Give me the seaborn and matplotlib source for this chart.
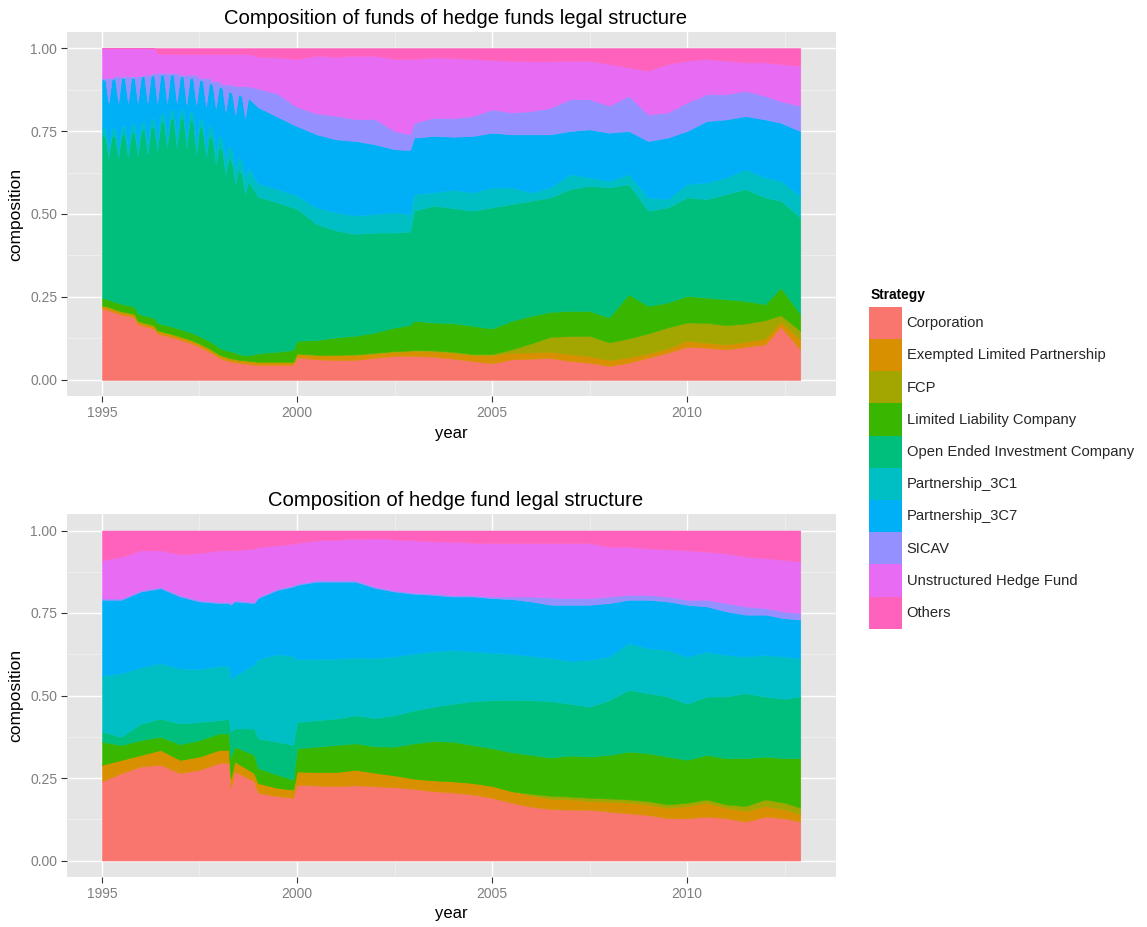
import numpy as np
import matplotlib
matplotlib.use("Agg")
import matplotlib.pyplot as plt
from matplotlib.patches import Patch
import seaborn as sns

# ---------------- data (stacked upper edges) ----------------
strategies = ["Corporation", "Exempted Limited Partnership", "FCP",
              "Limited Liability Company", "Open Ended Investment Company",
              "Partnership_3C1", "Partnership_3C7", "SICAV",
              "Unstructured Hedge Fund", "Others"]
colors = ["#F8766D", "#D89000", "#A3A500", "#39B600", "#00BF7D",
          "#00BFC4", "#00B0F6", "#9590FF", "#E76BF3", "#FF62BC"]

# --- funds of hedge funds (top chart) ---
fof_year = [1995.000, 1995.083, 1995.167, 1995.250, 1995.333, 1995.417, 1995.500, 1995.583,
            1995.667, 1995.750, 1995.833, 1995.917, 1996.000, 1996.083, 1996.167, 1996.250,
            1996.333, 1996.417, 1996.500, 1996.583, 1996.667, 1996.750, 1996.833, 1996.917,
            1997.000, 1997.083, 1997.167, 1997.250, 1997.333, 1997.417, 1997.500, 1997.583,
            1997.667, 1997.750, 1997.833, 1997.917, 1998.000, 1998.083, 1998.167, 1998.250,
            1998.333, 1998.417, 1998.500, 1998.583, 1998.667, 1998.750,
            1999.0, 1999.5, 1999.9, 2000.0, 2000.5, 2001.0, 2001.5, 2002.0, 2002.5, 2002.9,
            2003.0, 2003.5, 2004.0, 2004.5, 2005.0, 2005.5, 2006.0, 2006.5, 2007.0, 2007.5,
            2008.0, 2008.5, 2009.0, 2009.5, 2010.0, 2010.5, 2011.0, 2011.5, 2012.0, 2012.4,
            2012.9]
fof_corporation_top = [
    .215, .213, .210, .207, .203, .200, .197, .195, .193, .191, .188, .168, .165, .162, .160, .157,
    .154, .140, .137, .135, .132, .130, .127, .124, .121, .118, .115, .112, .108, .104, .100, .095,
    .090, .085, .079, .073, .067, .063, .060, .057, .055, .053, .051, .050, .049, .048,
    .045, .045, .045, .068, .062, .060, .060, .067, .072, .072,
    .072, .070, .064, .057, .050, .062, .064, .066, .057, .052,
    .042, .052, .067, .082, .100, .097, .092, .100, .107, .160, .092]
fof_exempted_top = [
    .223, .221, .218, .215, .211, .208, .205, .203, .201, .199, .196, .176, .173, .170, .168, .165,
    .162, .148, .145, .143, .140, .138, .135, .132, .129, .126, .123, .120, .116, .112, .108, .103,
    .098, .093, .087, .081, .075, .071, .068, .065, .063, .061, .059, .058, .057, .056,
    .053, .053, .053, .078, .074, .074, .075, .080, .085, .086,
    .087, .086, .082, .075, .075, .082, .083, .085, .077, .072,
    .060, .068, .080, .095, .118, .112, .107, .115, .125, .175, .123]
fof_fcp_top = [
    .225, .223, .220, .217, .213, .210, .207, .205, .203, .201, .198, .178, .175, .172, .170, .167,
    .164, .150, .147, .145, .142, .140, .137, .134, .131, .128, .125, .122, .118, .114, .110, .105,
    .100, .095, .089, .083, .077, .073, .070, .067, .065, .063, .061, .060, .059, .058,
    .055, .055, .055, .080, .076, .076, .077, .082, .087, .089,
    .090, .089, .085, .078, .078, .092, .110, .130, .132, .133,
    .113, .125, .140, .158, .173, .172, .165, .170, .180, .195, .148]
fof_llc_top = [
    .247, .245, .242, .239, .235, .232, .229, .227, .225, .223, .220, .200, .197, .194, .192, .189,
    .186, .172, .169, .167, .164, .162, .159, .156, .153, .150, .147, .144, .140, .136, .132, .127,
    .122, .117, .111, .105, .097, .093, .090, .087, .085, .083, .077, .076, .075, .074,
    .080, .085, .090, .118, .120, .128, .133, .143, .158, .165,
    .178, .173, .171, .163, .155, .178, .193, .205, .208, .208,
    .188, .258, .223, .233, .253, .248, .243, .238, .228, .278, .198]
fof_oeic_top = [
    .735, .735, .670, .735, .735, .670, .740, .740, .670, .745, .745, .675, .750, .755, .680, .760,
    .765, .690, .775, .780, .700, .785, .790, .700, .790, .790, .700, .785, .780, .680, .765, .755,
    .670, .740, .725, .650, .705, .690, .620, .670, .655, .590, .635, .620, .560, .600,
    .552, .535, .520, .515, .470, .450, .440, .444, .444, .447,
    .510, .525, .518, .510, .520, .530, .540, .550, .575, .585,
    .580, .590, .510, .520, .550, .545, .560, .575, .550, .540, .490]
fof_3c1_top = [
    .760, .760, .700, .760, .760, .700, .765, .765, .700, .770, .770, .705, .775, .780, .710, .785,
    .790, .720, .800, .805, .730, .810, .815, .730, .815, .815, .730, .810, .805, .710, .790, .780,
    .700, .770, .755, .690, .740, .725, .660, .710, .695, .635, .675, .660, .610, .640,
    .592, .575, .560, .555, .520, .505, .495, .500, .505, .500,
    .560, .565, .573, .565, .580, .580, .565, .580, .620, .610,
    .600, .620, .550, .545, .590, .595, .610, .635, .610, .600, .555]
fof_3c7_top = [
    .905, .905, .835, .905, .910, .835, .910, .910, .835, .910, .910, .835, .915, .915, .835, .915,
    .920, .835, .920, .920, .835, .920, .920, .835, .915, .915, .830, .910, .910, .830, .905, .900,
    .825, .895, .890, .820, .885, .880, .810, .870, .865, .800, .860, .855, .790, .850,
    .822, .793, .770, .765, .740, .725, .720, .710, .695, .693,
    .730, .735, .733, .735, .745, .740, .740, .740, .750, .755,
    .745, .750, .720, .730, .750, .780, .785, .795, .785, .775, .750]
fof_sicav_top = [
    .910, .910, .910, .910, .915, .915, .915, .915, .915, .915, .915, .915, .915, .920, .920, .920,
    .925, .925, .925, .925, .925, .925, .925, .925, .920, .920, .920, .920, .920, .920, .910, .910,
    .910, .910, .900, .900, .900, .890, .890, .890, .890, .885, .885, .885, .885, .885,
    .878, .863, .830, .823, .803, .796, .786, .786, .750, .740,
    .775, .790, .789, .795, .815, .806, .810, .820, .846, .846,
    .826, .856, .800, .806, .836, .861, .861, .871, .856, .840, .826]
fof_unstructured_top = [
    1.0, 1.0, 1.0, 1.0, 1.0, 1.0, 1.0, 1.0, 1.0, 1.0, 1.0, 1.0, 1.0, 1.0, 1.0, 1.0,
    1.0, .985, .982, .982, .982, .982, .982, .982, .982, .982, .982, .982, .982, .982, .982, .982,
    .982, .982, .982, .982, .982, .982, .982, .982, .982, .982, .982, .982, .982, .982,
    .974, .972, .968, .967, .977, .974, .977, .977, .967, .967,
    .967, .972, .970, .967, .964, .962, .960, .960, .962, .962,
    .952, .942, .932, .952, .962, .967, .962, .957, .957, .952, .947]

# --- hedge funds (bottom chart) ---
hf_year = [1995.0, 1995.5, 1996.0, 1996.5, 1997.0, 1997.5, 1998.0, 1998.25, 1998.3, 1998.4,
           1998.9, 1999.0, 1999.5, 1999.9, 2000.0, 2000.5, 2001.0, 2001.5, 2002.0, 2002.5,
           2003.0, 2003.5, 2004.0, 2004.5, 2005.0, 2005.5, 2006.0, 2006.5, 2007.0, 2007.5,
           2008.0, 2008.5, 2009.0, 2009.5, 2010.0, 2010.5, 2011.0, 2011.5, 2012.0, 2012.5, 2012.9]
hf_corporation_top = [.240, .265, .285, .290, .265, .275, .295, .296, .220, .270,
                      .240, .205, .195, .190, .230, .227, .225, .228, .225, .222,
                      .217, .210, .206, .200, .190, .175, .163, .156, .154, .154,
                      .148, .143, .138, .128, .128, .133, .128, .118, .133, .128, .118]
hf_exempted_top = [.290, .305, .320, .335, .305, .315, .335, .335, .250, .300,
                   .265, .235, .220, .215, .270, .268, .268, .275, .266, .258,
                   .248, .243, .240, .235, .226, .210, .197, .187, .185, .180,
                   .178, .175, .170, .160, .165, .175, .160, .150, .165, .155, .140]
hf_fcp_top = [.290, .305, .320, .335, .305, .315, .335, .335, .250, .300,
              .265, .235, .220, .215, .270, .268, .268, .275, .266, .258,
              .248, .243, .240, .235, .226, .210, .202, .196, .194, .190,
              .188, .185, .180, .170, .175, .185, .170, .165, .185, .175, .160]
hf_llc_top = [.360, .350, .365, .375, .352, .365, .385, .385, .310, .345,
              .320, .280, .260, .245, .340, .345, .350, .355, .346, .345,
              .355, .362, .360, .350, .340, .328, .320, .312, .318, .315,
              .320, .330, .325, .315, .305, .320, .310, .310, .315, .310, .310]
hf_oeic_top = [.390, .375, .415, .430, .415, .420, .425, .430, .390, .400,
               .400, .370, .360, .350, .420, .425, .430, .440, .432, .440,
               .455, .466, .475, .483, .486, .487, .486, .483, .475, .466,
               .486, .517, .507, .497, .475, .497, .497, .507, .497, .490, .497]
hf_3c1_top = [.560, .568, .585, .598, .582, .580, .590, .590, .550, .560,
              .595, .610, .625, .620, .610, .610, .612, .615, .614, .618,
              .628, .634, .638, .634, .630, .626, .620, .614, .605, .608,
              .618, .659, .643, .638, .618, .633, .623, .618, .623, .618, .613]
hf_3c7_top = [.790, .790, .815, .825, .800, .785, .780, .780, .775, .785,
              .780, .795, .820, .830, .835, .845, .845, .845, .826, .815,
              .808, .805, .800, .800, .795, .792, .785, .775, .775, .775,
              .780, .790, .790, .785, .775, .770, .755, .745, .745, .734, .730]
hf_sicav_top = [.794, .794, .819, .829, .804, .789, .784, .784, .779, .789,
                .784, .799, .824, .834, .839, .849, .849, .849, .830, .819,
                .812, .809, .804, .804, .800, .800, .800, .797, .795, .795,
                .800, .805, .805, .800, .790, .790, .780, .770, .765, .754, .750]
hf_unstructured_top = [.910, .920, .940, .940, .928, .932, .940, .940, .940, .940,
                       .945, .950, .955, .960, .962, .970, .972, .975, .976, .973,
                       .970, .967, .966, .963, .962, .962, .962, .962, .962, .962,
                       .951, .951, .946, .943, .940, .936, .931, .921, .916, .911, .906]

fof_tops = [fof_corporation_top, fof_exempted_top, fof_fcp_top, fof_llc_top, fof_oeic_top,
            fof_3c1_top, fof_3c7_top, fof_sicav_top, fof_unstructured_top]
hf_tops = [hf_corporation_top, hf_exempted_top, hf_fcp_top, hf_llc_top, hf_oeic_top,
           hf_3c1_top, hf_3c7_top, hf_sicav_top, hf_unstructured_top]


def composition(tops):
    n = len(tops[0])
    edges = np.vstack([np.zeros(n)] + [np.asarray(t, float) for t in tops] + [np.ones(n)])
    return np.diff(edges, axis=0)   # share of each legal structure


# ---------------- style ----------------
sns.set_theme(style="darkgrid", rc={
    "axes.facecolor": "#E5E5E5",
    "grid.color": "white",
    "axes.edgecolor": "#E5E5E5",
})
plt.rcParams["font.family"] = ["Liberation Sans", "DejaVu Sans"]
palette = sns.color_palette(colors)

W, H = 1147, 927
fig = plt.figure(figsize=(W / 100, H / 100), dpi=100)


def panel(rect_px, years, tops, title, title_y):
    x0, y0, x1, y1 = rect_px
    ax = fig.add_axes([x0 / W, 1 - y1 / H, (x1 - x0) / W, (y1 - y0) / H])
    ax.stackplot(years, composition(tops), colors=palette,
                 linewidth=0.4, edgecolor="face", zorder=3)
    ax.set_xlim(1994.104, 2013.816)
    ax.set_ylim(-0.05, 1.05)
    ax.set_xticks([1995, 2000, 2005, 2010])
    ax.set_xticks([1997.5, 2002.5, 2007.5, 2012.5], minor=True)
    ax.set_yticks([0, 0.25, 0.5, 0.75, 1.0])
    ax.set_yticklabels(["0.00", "0.25", "0.50", "0.75", "1.00"])
    ax.set_yticks([0.125, 0.375, 0.625, 0.875], minor=True)
    ax.grid(which="major", color="white", linewidth=1.0, zorder=0)
    ax.grid(which="minor", color="#F2F2F2", linewidth=0.5, zorder=0)
    ax.set_axisbelow(True)
    for s in ax.spines.values():
        s.set_visible(False)
    ax.tick_params(which="major", direction="out", length=4.5, width=0.8,
                   color="#333333", labelcolor="#7F7F7F", labelsize=10, pad=2.5,
                   bottom=True, left=True)
    ax.tick_params(which="minor", length=0, bottom=False, left=False)
    ax.set_xlabel("year", fontsize=12, color="black", labelpad=4)
    ax.set_ylabel("composition", fontsize=12.5, color="black", labelpad=5)
    fig.text(((x0 + x1) / 2 + 4) / W, 1 - title_y / H, title, ha="center", va="center",
             fontsize=14.6, color="black")
    return ax


panel((67, 31.5, 836, 396.5), fof_year, fof_tops,
      "Composition of funds of hedge funds legal structure", 18)
panel((67, 514, 836, 877), hf_year, hf_tops,
      "Composition of hedge fund legal structure", 501)

# legend: title as its own text, keys as a contiguous column of coloured squares
fig.text(871 / W, 1 - 295 / H, "Strategy", ha="left", va="center",
         fontsize=9.9, fontweight="bold", color="black")
handles = [Patch(facecolor=c, edgecolor="none", label=s) for c, s in zip(palette, strategies)]
leg = fig.legend(handles=handles, loc="upper left", bbox_to_anchor=(869.3 / W, 1 - 306.7 / H),
                 frameon=False, fontsize=10.6,
                 handlelength=2.2, handleheight=2.99, labelspacing=0.0,
                 handletextpad=0.34, borderpad=0.0, borderaxespad=0.0)

fig.savefig("out.png", dpi=100)
